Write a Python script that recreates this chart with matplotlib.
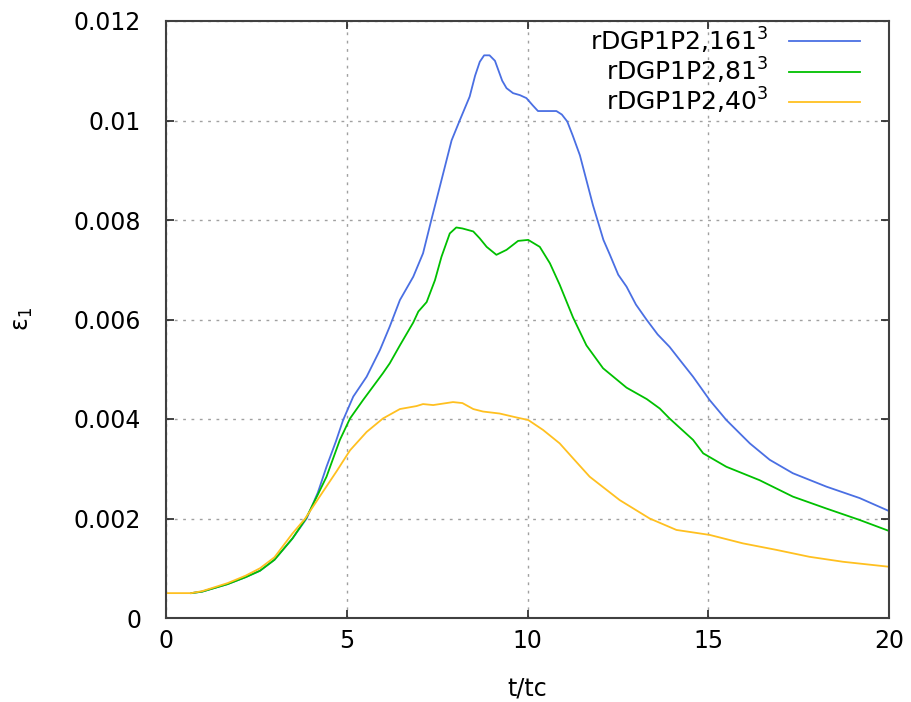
import matplotlib
matplotlib.use("Agg")
import matplotlib.pyplot as plt

t_161 = [0.7, 1.0, 1.7, 2.2, 2.6, 3.0, 3.5, 3.89, 4.2, 4.44, 4.7, 4.9, 5.18, 5.55, 5.92, 6.19, 6.47,
         6.84, 7.11, 7.35, 7.62, 7.9, 8.13, 8.4, 8.55, 8.68, 8.8, 8.95, 9.1, 9.3, 9.42, 9.6, 9.79,
         9.97, 10.15, 10.29, 10.52, 10.8, 10.95, 11.1, 11.25, 11.45, 11.81, 12.1, 12.28, 12.51, 12.74,
         13.0, 13.29, 13.6, 13.93, 14.21, 14.58, 15.04, 15.5, 16.15, 16.7, 17.34, 18.27, 19.19, 20.0]
e_161 = [0.0005, 0.00053, 0.00068, 0.00082, 0.00095, 0.00117, 0.0016, 0.002, 0.00252, 0.00304,
         0.00355, 0.00398, 0.00445, 0.00485, 0.00539, 0.00586, 0.00639, 0.00686, 0.00733, 0.00803,
         0.0088, 0.0096, 0.01001, 0.01048, 0.0109, 0.01118, 0.01131, 0.01131, 0.0112, 0.0108, 0.01065,
         0.01055, 0.01051, 0.01045, 0.0103, 0.01019, 0.01019, 0.01019, 0.01012, 0.00998, 0.0097,
         0.0093, 0.0083, 0.0076, 0.0073, 0.0069, 0.00666, 0.0063, 0.006, 0.0057, 0.00545, 0.00519,
         0.00485, 0.00438, 0.00398, 0.00351, 0.00318, 0.00291, 0.00264, 0.00241, 0.00215]

t_81 = [0.7, 1.0, 1.7, 2.2, 2.6, 3.0, 3.5, 3.87, 4.2, 4.44, 4.81, 5.09, 5.45, 6.0, 6.19, 6.47,
        6.84, 6.98, 7.21, 7.44, 7.62, 7.85, 8.03, 8.2, 8.5, 8.68, 8.87, 9.14, 9.42, 9.74, 10.02,
        10.34, 10.62, 10.89, 11.26, 11.63, 12.09, 12.74, 13.3, 13.66, 13.93, 14.58, 14.86, 15.5,
        16.42, 17.34, 18.27, 19.19, 20.0]
e_81 = [0.0005, 0.00053, 0.00068, 0.00082, 0.00095, 0.00117, 0.0016, 0.002, 0.00248, 0.00284,
        0.00358, 0.00401, 0.00438, 0.00492, 0.00512, 0.00548, 0.00594, 0.00616, 0.00635, 0.00679,
        0.00726, 0.00773, 0.00785, 0.00783, 0.00777, 0.00763, 0.00746, 0.0073, 0.0074, 0.00758,
        0.0076, 0.00746, 0.00713, 0.0067, 0.00604, 0.00548, 0.00502, 0.00463, 0.0044, 0.00421,
        0.00401, 0.00358, 0.00331, 0.00304, 0.00277, 0.00244, 0.0022, 0.00197, 0.00175]

t_40 = [0.0, 0.7, 1.0, 1.7, 2.2, 2.6, 3.0, 3.5, 3.85, 4.26, 4.72, 5.09, 5.55, 6.0, 6.47, 6.93, 7.11,
        7.39, 7.94, 8.2, 8.5, 8.77, 9.23, 9.7, 10.02, 10.43, 10.89, 11.26, 11.72, 12.55, 13.38,
        14.12, 15.04, 15.96, 16.88, 17.8, 18.73, 20.0]
e_40 = [0.0005, 0.0005, 0.00054, 0.0007, 0.00085, 0.001, 0.00122, 0.0017, 0.002, 0.00245, 0.00295,
        0.00337, 0.00374, 0.00401, 0.0042, 0.00426, 0.0043, 0.00428, 0.00434, 0.00432, 0.0042,
        0.00415, 0.00411, 0.00403, 0.00398, 0.00378, 0.00351, 0.00321, 0.00284, 0.00237, 0.002,
        0.00177, 0.00167, 0.0015, 0.00137, 0.00123, 0.00113, 0.00103]

labels = ["rDGP1P2,161$^3$", "rDGP1P2,81$^3$", "rDGP1P2,40$^3$"]
colors = ["#4a6fe3", "#00c000", "#ffc020"]

x_ticks = [0, 5, 10, 15, 20]
y_ticks = [0, 0.002, 0.004, 0.006, 0.008, 0.01, 0.012]
y_ticklabels = ["0", "0.002", "0.004", "0.006", "0.008", "0.01", "0.012"]

plt.rcParams['font.family'] = ['DejaVu Sans']
plt.rcParams['mathtext.fontset'] = 'dejavusans'

FS = 17

fig = plt.figure(figsize=(9.11, 7.02), dpi=100)
ax = fig.add_axes([166/911, 84/702, 723/911, 597/702])

for t, e, lab, c in zip([t_161, t_81, t_40], [e_161, e_81, e_40], labels, colors):
    ax.plot(t, e, color=c, lw=1.3, label=lab)

ax.set_xlim(0, 20)
ax.set_ylim(0, 0.012)
ax.set_xticks(x_ticks)
ax.set_xticklabels([str(v) for v in x_ticks])
ax.set_yticks(y_ticks)
ax.set_yticklabels(y_ticklabels)
ax.grid(True, color='#a0a0a0', linestyle=(0, (2, 4)), linewidth=1.0)
ax.tick_params(direction='in', top=True, right=True, length=6, width=1.2,
               labelsize=FS, color='#222222')
ax.tick_params(axis='y', pad=18)
ax.tick_params(axis='x', pad=8)
for s in ax.spines.values():
    s.set_color('#404040')
    s.set_linewidth(1.5)

ax.set_xlabel('t/tc', fontsize=FS, labelpad=17)
ax.set_ylabel('ε$_1$', fontsize=FS, labelpad=28)

leg = ax.legend(loc='upper right', bbox_to_anchor=(0.984, 1.022), frameon=False, markerfirst=False,
                fontsize=18, handlelength=2.85, labelspacing=0.0, handletextpad=0.8,
                borderaxespad=0.3)

fig.savefig('out.png', dpi=100)
